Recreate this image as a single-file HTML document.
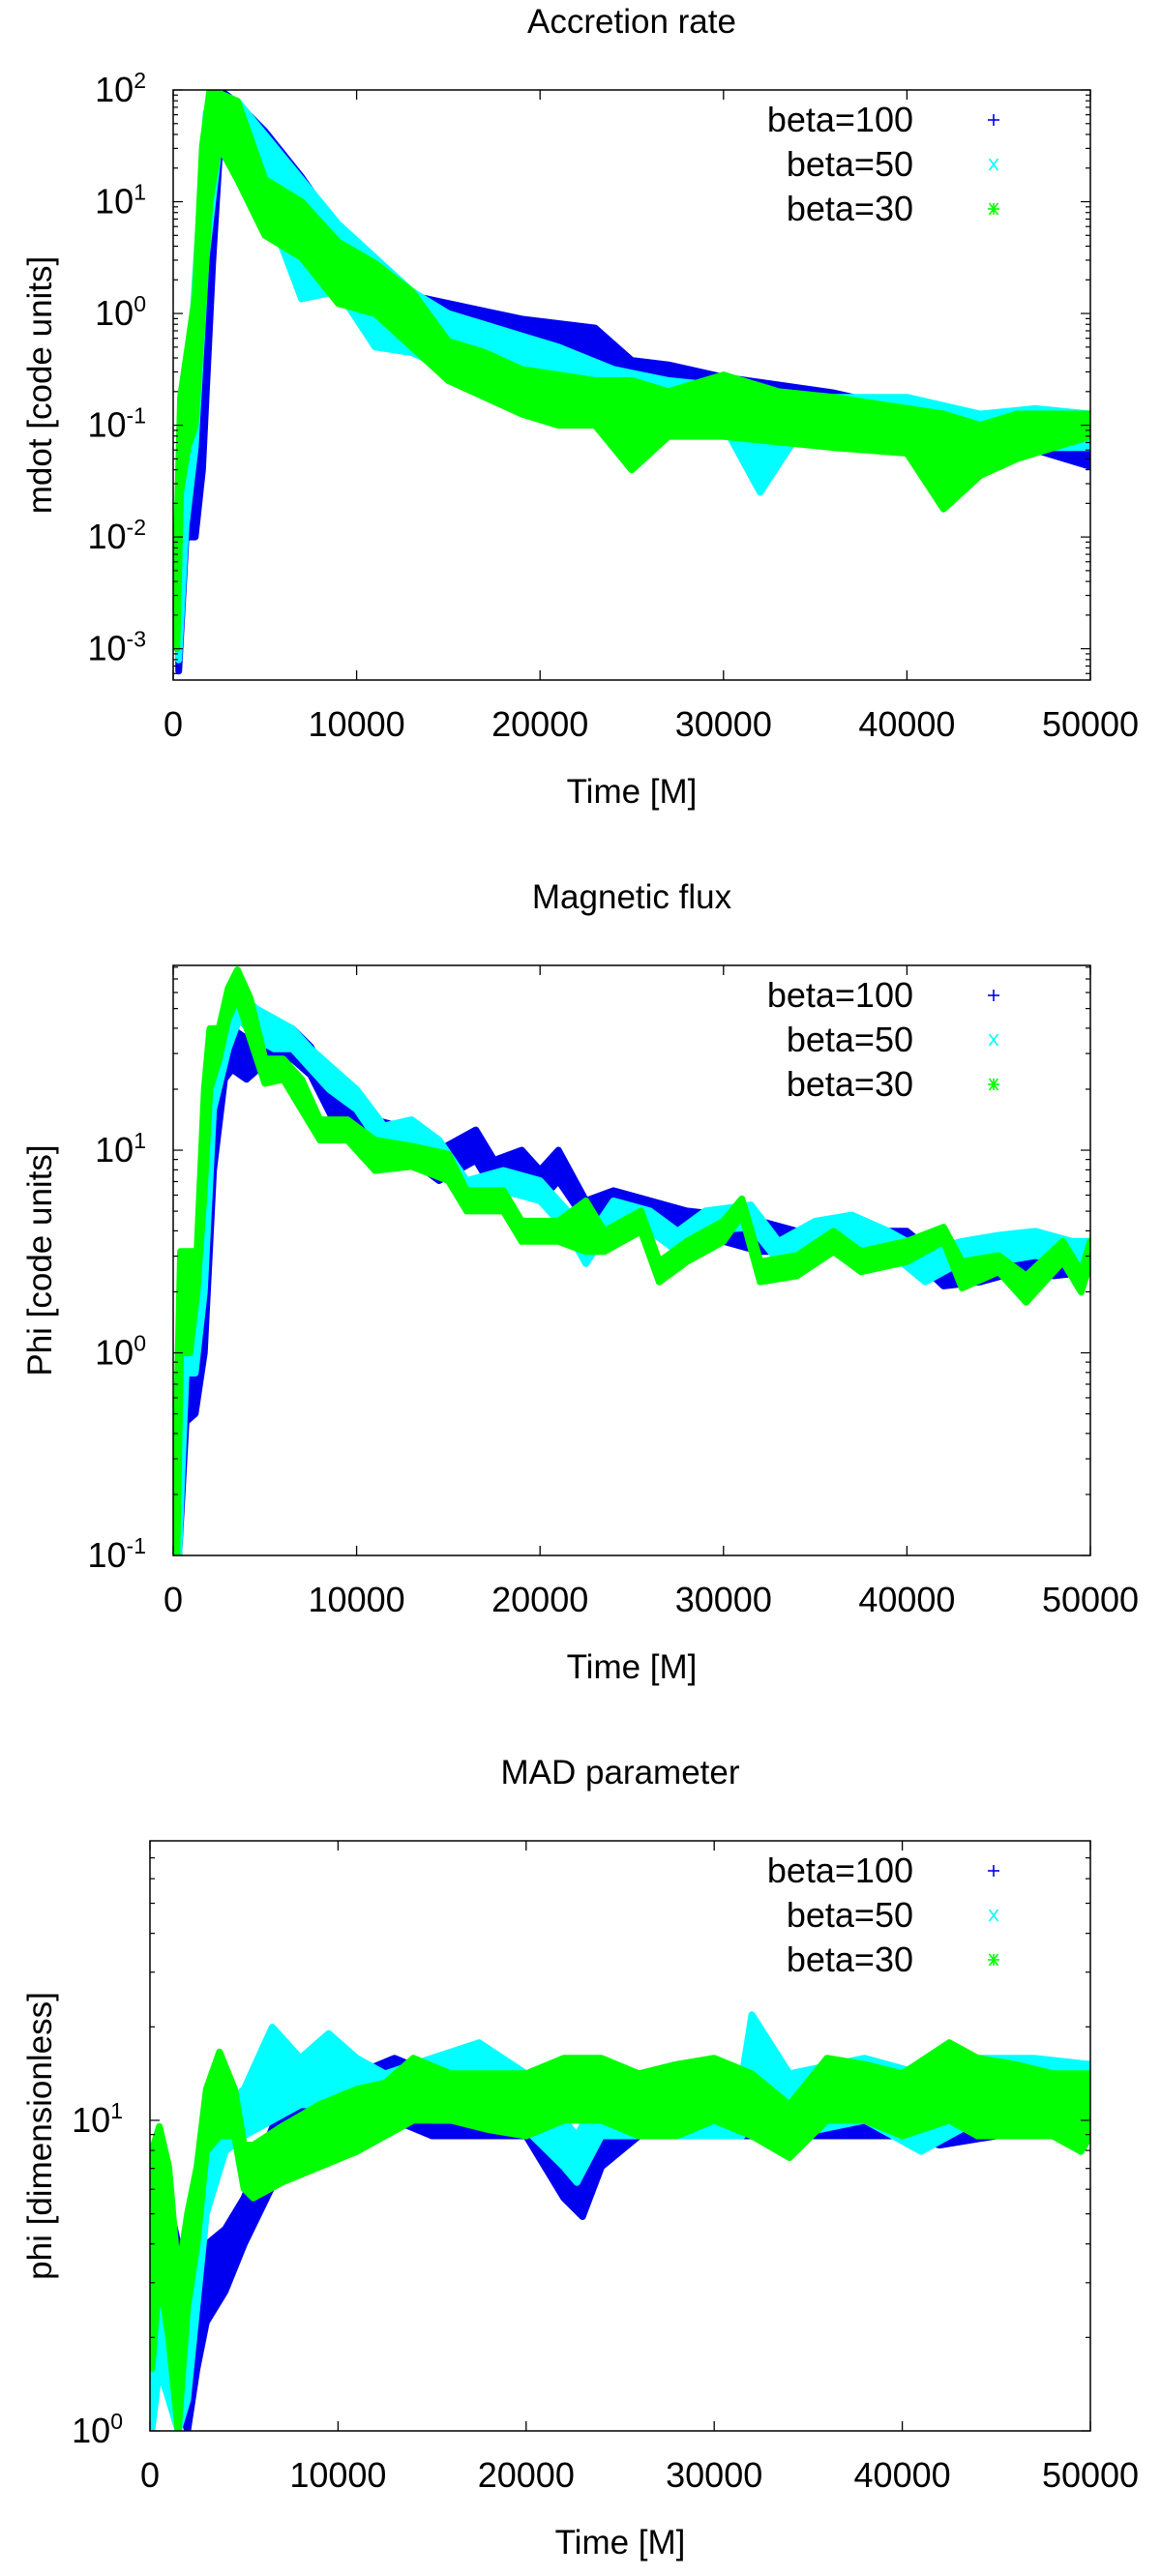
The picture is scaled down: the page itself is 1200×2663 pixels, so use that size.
<!DOCTYPE html>
<html><head><meta charset="utf-8"><style>
html,body{margin:0;padding:0;background:#fff;}
svg{display:block;}
text{font-family:"Liberation Sans",Helvetica,Arial,sans-serif;fill:#000;}
</style></head>
<body>
<svg id="fig" width="1200" height="2663" viewBox="0 0 1200 2663" xmlns="http://www.w3.org/2000/svg">
<rect x="0" y="0" width="1200" height="2663" fill="#fff"/>
</svg>
<script>
// ---------- data (time in M, values as log10 of quantity: band lower / upper edge) ----------
// Panel 1: Accretion rate (mdot)
const mdotB100T  = [300,700,1200,1600,2150,2500,2800,3500,5000,7000,9000,11000,13000,15000,17000,19000,21000,23000,25000,27000,30000,33000,36000,40000,43000,45000,47000,50000];
const mdotB100Lo = [-3.2,-2.0,-2.0,-1.4,0.45,1.37,1.55,1.44,1.19,0.75,0.38,0.09,-0.13,-0.35,-0.42,-0.35,-0.5,-0.5,-0.71,-0.75,-0.79,-0.86,-0.93,-1.08,-1.15,-1.15,-1.22,-1.37];
const mdotB100Hi = [-2.5,-1.3,-1.3,0.0,1.55,1.92,1.97,1.88,1.63,1.22,0.75,0.46,0.16,0.09,0.02,-0.05,-0.09,-0.13,-0.42,-0.46,-0.57,-0.64,-0.71,-0.86,-0.93,-0.93,-0.86,-1.0];
const mdotB50T   = [300,700,1200,1800,2500,3500,5000,7000,9000,11000,13000,15000,17000,19000,21000,24000,27000,30000,32000,34000,37000,40000,44000,47000,50000];
const mdotB50Lo  = [-3.1,-1.9,-1.2,0.5,1.5,1.3,1.0,0.13,0.2,-0.3,-0.35,-0.5,-0.7,-0.85,-0.9,-1.0,-1.0,-1.0,-1.6,-1.1,-1.1,-1.15,-1.2,-1.2,-1.2];
const mdotB50Hi  = [-2.3,-1.0,0.3,1.8,1.97,1.9,1.6,1.2,0.8,0.5,0.2,0.0,-0.1,-0.2,-0.3,-0.5,-0.6,-0.65,-0.8,-0.75,-0.75,-0.75,-0.9,-0.85,-0.9];
const mdotB30T   = [200,400,800,1200,1600,2000,2500,3500,5000,7000,9000,11000,13000,15000,17000,19000,21000,23000,25000,27000,30000,33000,36000,40000,42000,44000,46000,48000,50000];
const mdotB30Lo  = [-3.0,-1.6,-1.2,-1.0,0.0,1.0,1.5,1.2,0.7,0.5,0.09,0.0,-0.3,-0.6,-0.75,-0.9,-1.0,-1.0,-1.4,-1.1,-1.1,-1.15,-1.2,-1.25,-1.75,-1.45,-1.3,-1.2,-1.1];
const mdotB30Hi  = [-2.0,-0.75,-0.3,0.16,1.5,2.0,1.97,1.9,1.2,1.0,0.64,0.45,0.2,-0.25,-0.35,-0.5,-0.55,-0.6,-0.6,-0.7,-0.55,-0.7,-0.75,-0.85,-0.9,-1.0,-0.9,-0.9,-0.9];

// Panel 2: Magnetic flux (Phi)
const fluxB100T  = [300,700,1200,1700,2200,2800,3200,4000,5000,6500,7500,9000,10000,11000,13000,14500,16500,17500,19000,20000,21000,22500,24000,26000,28000,30000,32000,34000,36000,38000,40000,42000,44000,46000,48000,50000];
const fluxB100Lo = [-1.0,-0.34,-0.3,0.0,0.9,1.35,1.4,1.35,1.43,1.45,1.37,1.1,1.05,1.02,0.95,0.85,0.95,0.8,0.85,0.75,0.85,0.65,0.65,0.65,0.6,0.55,0.5,0.5,0.55,0.5,0.5,0.33,0.35,0.4,0.38,0.4];
const fluxB100Hi = [-0.3,-0.15,0.1,0.4,1.22,1.57,1.6,1.55,1.55,1.6,1.51,1.25,1.2,1.15,1.1,1.0,1.1,0.95,1.0,0.9,1.0,0.75,0.8,0.75,0.7,0.68,0.65,0.6,0.65,0.6,0.6,0.45,0.45,0.5,0.5,0.55];
const fluxB50T   = [300,700,1200,1700,2200,3000,3600,4500,5500,6500,7500,8500,10000,11500,13000,14500,16000,18000,20000,21500,22500,24000,26000,27500,29000,31500,33000,35000,37000,39000,41000,43000,45000,47000,49000,50000];
const fluxB50Lo  = [-1.0,-0.1,-0.1,0.3,1.2,1.5,1.65,1.55,1.5,1.5,1.4,1.3,1.2,1.0,1.05,0.95,0.75,0.8,0.75,0.6,0.44,0.65,0.6,0.5,0.6,0.62,0.45,0.55,0.55,0.5,0.35,0.45,0.45,0.48,0.45,0.4];
const fluxB50Hi  = [0.0,0.3,0.05,1.0,1.5,1.65,1.78,1.7,1.65,1.6,1.5,1.42,1.3,1.12,1.15,1.05,0.85,0.9,0.85,0.7,0.55,0.75,0.7,0.6,0.7,0.73,0.55,0.65,0.68,0.6,0.5,0.55,0.58,0.6,0.55,0.55];
const fluxB30T   = [200,400,900,1300,1700,2000,2500,3000,3500,4200,5000,6000,7000,8000,9500,11000,13000,15000,16000,18000,19000,21000,22500,23500,25500,26500,28000,30000,31000,32000,34000,36000,37500,40000,42000,43000,45000,46500,48500,49500,50000];
const fluxB30Lo  = [-1.0,0.0,0.0,0.3,0.8,1.3,1.45,1.65,1.75,1.55,1.33,1.35,1.2,1.05,1.05,0.9,0.92,0.85,0.7,0.7,0.55,0.55,0.5,0.5,0.6,0.35,0.45,0.55,0.68,0.35,0.38,0.5,0.4,0.45,0.55,0.32,0.4,0.25,0.45,0.3,0.45];
const fluxB30Hi  = [-0.3,0.5,0.5,0.5,1.3,1.6,1.6,1.8,1.89,1.75,1.45,1.45,1.35,1.15,1.15,1.05,1.02,0.98,0.8,0.8,0.65,0.65,0.75,0.6,0.7,0.45,0.55,0.65,0.76,0.45,0.48,0.6,0.5,0.55,0.62,0.45,0.48,0.38,0.55,0.4,0.55];

// Panel 3: MAD parameter (phi)
const madB100T   = [100,500,1500,2000,2500,3000,4000,5000,7000,9000,11000,13000,15000,20000,22000,23000,24000,26000,30000,35000,40000,42000,45000,50000];
const madB100Lo  = [0.0,0.4,0.1,0.0,0.2,0.35,0.45,0.6,0.85,0.95,0.95,1.0,0.95,0.95,0.75,0.69,0.85,0.95,0.95,0.95,0.95,0.92,0.95,1.0];
const madB100Hi  = [0.5,0.87,0.6,0.3,0.5,0.6,0.65,0.75,1.05,1.1,1.15,1.2,1.15,1.15,1.0,0.9,1.0,1.1,1.1,1.1,1.15,1.05,1.1,1.15];
const madB50T    = [100,500,1500,2000,2500,3000,4000,5000,6500,8000,9500,11000,12500,15000,17500,20000,22000,22700,24000,28000,31500,32000,34000,38000,41000,44000,47000,50000];
const madB50Lo   = [0.0,0.2,0.0,0.1,0.4,0.7,0.9,0.95,1.0,1.05,1.05,1.1,1.05,1.0,1.0,0.97,0.85,0.8,0.95,0.95,0.95,1.0,0.95,1.0,0.9,1.0,1.0,1.0];
const madB50Hi   = [0.5,0.6,0.2,0.5,0.75,0.9,1.05,1.1,1.3,1.2,1.28,1.2,1.15,1.2,1.25,1.15,1.0,0.95,1.1,1.1,1.15,1.34,1.15,1.2,1.15,1.2,1.2,1.18];
const madB30T    = [100,500,1000,1500,2000,2500,3000,3700,4500,5000,5500,7000,9000,11000,12500,14000,16000,18000,20000,22000,24000,26000,28000,30000,32000,34000,36000,38000,40000,42500,44000,46000,48000,49500,50000];
const madB30Lo   = [0.2,0.5,0.3,0.0,0.4,0.6,0.9,0.95,0.95,0.78,0.75,0.8,0.85,0.9,0.95,1.0,1.0,0.97,0.95,1.0,1.0,0.95,0.95,1.0,0.95,0.88,1.0,1.0,0.95,1.0,0.95,0.95,0.95,0.9,0.95];
const madB30Hi   = [0.9,0.98,0.85,0.5,0.7,0.85,1.1,1.22,1.1,0.92,0.92,0.98,1.05,1.1,1.12,1.2,1.15,1.15,1.15,1.2,1.2,1.15,1.18,1.2,1.15,1.05,1.2,1.18,1.15,1.25,1.2,1.18,1.15,1.15,1.15];

const xTickValues = [0,10000,20000,30000,40000,50000];
const seriesLabels = ["beta=100","beta=50","beta=30"];
const seriesColors = ["#0000f0","#00ffff","#00ff00"];

// ---------- rendering ----------
const NS = "http://www.w3.org/2000/svg";
const svg = document.getElementById("fig");
function mk(tag, attrs, parent){
  const e = document.createElementNS(NS, tag);
  for (const k in attrs) e.setAttribute(k, attrs[k]);
  (parent||svg).appendChild(e);
  return e;
}

const panels = [
  {key:"accretion", title:"Accretion rate", ylab:"mdot [code units]", l:179, r:1127, t:93, b:703, lmin:-3.28, lmax:2.0,
   series:[[mdotB100T,mdotB100Lo,mdotB100Hi],[mdotB50T,mdotB50Lo,mdotB50Hi],[mdotB30T,mdotB30Lo,mdotB30Hi]]},
  {key:"flux", title:"Magnetic flux", ylab:"Phi [code units]", l:179, r:1127, t:998, b:1608, lmin:-1.0, lmax:1.912,
   series:[[fluxB100T,fluxB100Lo,fluxB100Hi],[fluxB50T,fluxB50Lo,fluxB50Hi],[fluxB30T,fluxB30Lo,fluxB30Hi]]},
  {key:"mad", title:"MAD parameter", ylab:"phi [dimensionless]", l:155, r:1127, t:1903, b:2513, lmin:0.0, lmax:1.9,
   series:[[madB100T,madB100Lo,madB100Hi],[madB50T,madB50Lo,madB50Hi],[madB30T,madB30Lo,madB30Hi]]}
];

panels.forEach((p, pi) => {
  const xs = t => p.l + t/50000*(p.r-p.l);
  const ys = v => p.t + (p.lmax - v)/(p.lmax - p.lmin)*(p.b - p.t);
  const g = mk("g", {});
  
  

  const title = mk("text", {x:(p.l+p.r)/2, y:p.t-59, "font-size":35, "text-anchor":"middle"}, g);
  title.textContent = p.title;
  
  

  const clipId = "clip" + pi;
  const cp = mk("clipPath", {id:clipId}, g);
  mk("rect", {x:p.l, y:p.t, width:p.r-p.l, height:p.b-p.t}, cp);

  const dg = mk("g", {"clip-path":"url(#"+clipId+")"}, g);
  
  
  p.series.forEach((s, si) => {
    const [T, Lo, Hi] = s;
    let pts = [];
    for (let i=0;i<T.length;i++) pts.push(xs(T[i]).toFixed(1)+","+ys(Hi[i]).toFixed(1));
    for (let i=T.length-1;i>=0;i--) pts.push(xs(T[i]).toFixed(1)+","+ys(Lo[i]).toFixed(1));
    const poly = mk("polygon", {points:pts.join(" "), fill:seriesColors[si], stroke:seriesColors[si], "stroke-width":7, "stroke-linejoin":"round"}, dg);
    
    
  });

  const border = mk("rect", {x:p.l, y:p.t, width:p.r-p.l, height:p.b-p.t, fill:"none", stroke:"#000", "stroke-width":1.5}, g);
  
  

  xTickValues.forEach(tv => {
    const x = xs(tv);
    mk("line", {x1:x, y1:p.b, x2:x, y2:p.b-10, stroke:"#000", "stroke-width":1.3}, g);
    mk("line", {x1:x, y1:p.t, x2:x, y2:p.t+10, stroke:"#000", "stroke-width":1.3}, g);
    const lab = mk("text", {x:x, y:p.b+58, "font-size":36, "text-anchor":"middle"}, g);
    lab.textContent = String(tv);
    
    
  });
  const xt = mk("text", {x:(p.l+p.r)/2, y:p.b+127, "font-size":35, "text-anchor":"middle"}, g);
  xt.textContent = "Time [M]";
  
  

  for (let d = Math.floor(p.lmin); d <= Math.ceil(p.lmax); d++) {
    for (let k = 1; k <= 9; k++) {
      const v = d + Math.log10(k);
      if (v < p.lmin - 1e-6 || v > p.lmax + 1e-6) continue;
      const y = ys(v);
      const len = k === 1 ? 10 : 5;
      mk("line", {x1:p.l, y1:y, x2:p.l+len, y2:y, stroke:"#000", "stroke-width":1.2}, g);
      mk("line", {x1:p.r, y1:y, x2:p.r-len, y2:y, stroke:"#000", "stroke-width":1.2}, g);
      if (k === 1) {
        const lab = mk("text", {x:p.l-28, y:y+12, "font-size":36, "text-anchor":"end"}, g);
        
        
        const t1 = mk("tspan", {}, lab); t1.textContent = "10";
        const t2 = mk("tspan", {dy:-14, "font-size":23}, lab); t2.textContent = String(d);
      }
    }
  }
  const ylab = mk("text", {x:0, y:0, "font-size":35, "text-anchor":"middle", transform:"translate(53,"+((p.t+p.b)/2)+") rotate(-90)"}, g);
  ylab.textContent = p.ylab;
  
  

  seriesLabels.forEach((lbl, si) => {
    const by = p.t + 43 + si*46;
    const lt = mk("text", {x:944, y:by, "font-size":36, "text-anchor":"end"}, g);
    lt.textContent = lbl;
    
    
    const cx = 1027, cy = by - 12, c = seriesColors[si], s = 6;
    const mg = mk("g", {stroke:c, "stroke-width":1.6}, g);
    
    
    if (si === 0 || si === 2) {
      mk("line", {x1:cx-s, y1:cy, x2:cx+s, y2:cy}, mg);
      mk("line", {x1:cx, y1:cy-s, x2:cx, y2:cy+s}, mg);
    }
    if (si === 1 || si === 2) {
      mk("line", {x1:cx-s*0.75, y1:cy-s, x2:cx+s*0.75, y2:cy+s}, mg);
      mk("line", {x1:cx-s*0.75, y1:cy+s, x2:cx+s*0.75, y2:cy-s}, mg);
    }
  });
});
</script>
</body></html>
